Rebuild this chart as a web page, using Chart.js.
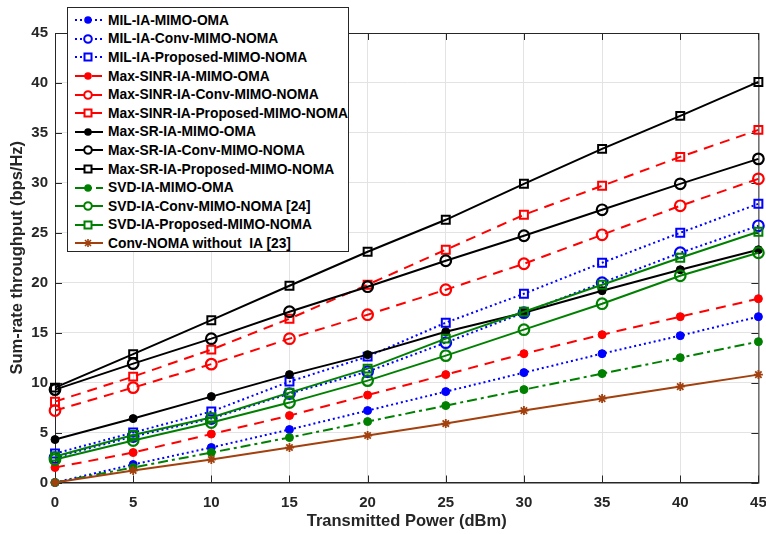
<!DOCTYPE html>
<html>
<head>
<meta charset="utf-8">
<script src="https://cdn.jsdelivr.net/npm/chart.js@4"></script>
<style>
  body { margin: 0; background: #fff; }
  #wrap { position: relative; width: 766px; height: 534px; font-family: 'Liberation Sans', Arial, sans-serif; }
  #legend {
    position: absolute; left: 67px; top: 7px; width: 282px; height: 245px;
    box-sizing: border-box; padding-top: 3px;
    background: #fff; border: 1px solid #262626;
  }
  .row { display: flex; align-items: center; height: 18.6px; }
  .row svg { flex: 0 0 40px; margin-left: -1px; }
  .row span { font-weight: bold; font-size: 13.8px; color: #000; white-space: pre; margin-left: 1px; }
</style>
</head>
<body>
<div id="wrap">
  <canvas id="chart" width="766" height="534"></canvas>
  <div id="legend"></div>
</div>
<script>
// x axis: transmitted power (dBm)
const powerDbm = [0, 5, 10, 15, 20, 25, 30, 35, 40, 45];

const seriesNames = [
  'MIL-IA-MIMO-OMA',
  'MIL-IA-Conv-MIMO-NOMA',
  'MIL-IA-Proposed-MIMO-NOMA',
  'Max-SINR-IA-MIMO-OMA',
  'Max-SINR-IA-Conv-MIMO-NOMA',
  'Max-SINR-IA-Proposed-MIMO-NOMA',
  'Max-SR-IA-MIMO-OMA',
  'Max-SR-IA-Conv-MIMO-NOMA',
  'Max-SR-IA-Proposed-MIMO-NOMA',
  'SVD-IA-MIMO-OMA',
  'SVD-IA-Conv-MIMO-NOMA [24]',
  'SVD-IA-Proposed-MIMO-NOMA',
  'Conv-NOMA without  IA [23]',
];

// sum-rate throughput (bps/Hz)
const milOma        = [0,   1.8,  3.5,  5.3,  7.2,  9.1,  11.0, 12.9, 14.7, 16.6];
const milConv       = [2.5, 4.6,  6.4,  8.9,  11.1, 14.0, 17.0, 20.0, 23.0, 25.7];
const milProposed   = [2.9, 5.0,  7.1,  10.1, 12.6, 16.0, 18.9, 22.0, 25.0, 27.9];
const sinrOma       = [1.5, 3.0,  4.85, 6.7,  8.75, 10.8, 12.9, 14.8, 16.6, 18.4];
const sinrConv      = [7.2, 9.5,  11.85,14.4, 16.8, 19.3, 21.9, 24.8, 27.7, 30.4];
const sinrProposed  = [8.1, 10.6, 13.3, 16.4, 19.8, 23.3, 26.8, 29.7, 32.6, 35.3];
const srOma         = [4.3, 6.4,  8.6,  10.8, 12.8, 15.1, 17.0, 19.2, 21.3, 23.3];
const srConv        = [9.3, 11.9, 14.4, 17.1, 19.6, 22.2, 24.7, 27.3, 29.9, 32.4];
const srProposed    = [9.5, 12.85,16.25,19.7, 23.1, 26.3, 29.9, 33.4, 36.7, 40.1];
const svdOma        = [0,   1.5,  3.0,  4.5,  6.1,  7.7,  9.3,  10.9, 12.5, 14.1];
const svdConv       = [2.3, 4.2,  6.0,  8.0,  10.2, 12.7, 15.3, 17.9, 20.7, 23.0];
const svdProposed   = [2.6, 4.75, 6.5,  9.0,  11.4, 14.4, 17.1, 19.8, 22.5, 25.1];
const convNomaNoIa  = [0,   1.2,  2.3,  3.5,  4.7,  5.9,  7.2,  8.4,  9.6,  10.8];

const seriesValues = [
  milOma, milConv, milProposed,
  sinrOma, sinrConv, sinrProposed,
  srOma, srConv, srProposed,
  svdOma, svdConv, svdProposed,
  convNomaNoIa,
];

const yTicks = [0, 5, 10, 15, 20, 25, 30, 35, 40, 45];

// styles per family / marker
const families = {
  mil:  { color: '#0000ff', dash: [2, 3] },
  sinr: { color: '#ff0000', dash: [10, 7] },
  sr:   { color: '#000000', dash: [] },
  svd:  { color: '#008000', dash: [] },
  conv: { color: '#a2400e', dash: [] },
};
const seriesFamily = ['mil','mil','mil','sinr','sinr','sinr','sr','sr','sr','svd','svd','svd','conv'];
const seriesMarker = ['dot','circle','square','dot','circle','square','dot','circle','square','dot','circle','square','star'];

function familyDash(i) {
  if (i === 9) return [10, 4, 3, 4];  // SVD OMA is dash-dot
  return families[seriesFamily[i]].dash;
}

function markerOpts(kind, color) {
  if (kind === 'dot')    return { pointStyle: 'circle', pointRadius: 4,   pointBackgroundColor: color, pointBorderWidth: 1 };
  if (kind === 'circle') return { pointStyle: 'circle', pointRadius: 5.3, pointBackgroundColor: 'rgba(0,0,0,0)', pointBorderWidth: 2.2 };
  if (kind === 'square') return { pointStyle: 'rect',   pointRadius: 5.6, pointBackgroundColor: 'rgba(0,0,0,0)', pointBorderWidth: 2 };
  return { pointStyle: 'star', pointRadius: 4.5, pointBackgroundColor: color, pointBorderWidth: 1.8 };
}

const N = seriesValues.length;
const datasets = seriesValues.map((vals, i) => {
  const color = families[seriesFamily[i]].color;
  return Object.assign({
    label: seriesNames[i],
    data: vals.map((v, k) => ({ x: powerDbm[k], y: v })),
    borderColor: color,
    pointBorderColor: color,
    borderWidth: 2,
    borderDash: familyDash(i),
    borderCapStyle: 'butt',
    tension: 0,
    clip: false,
    order: N - 1 - i,
  }, markerOpts(seriesMarker[i], color));
});

// box around the plot plus inward ticks on all four sides
const axesBox = {
  id: 'axesBox',
  beforeDatasetsDraw(chart) {
    const { ctx, chartArea: a, scales } = chart;
    ctx.save();
    ctx.strokeStyle = '#262626';
    ctx.lineWidth = 1;
    ctx.strokeRect(a.left + 0.5, a.top + 0.5, a.right - a.left, a.bottom - a.top);
    ctx.beginPath();
    powerDbm.forEach(v => {
      const px = Math.round(scales.x.getPixelForValue(v)) + 0.5;
      ctx.moveTo(px, a.bottom); ctx.lineTo(px, a.bottom - 7);
      ctx.moveTo(px, a.top);    ctx.lineTo(px, a.top + 7);
    });
    yTicks.forEach(v => {
      const py = Math.round(scales.y.getPixelForValue(v)) + 0.5;
      ctx.moveTo(a.left, py);  ctx.lineTo(a.left + 7, py);
      ctx.moveTo(a.right, py); ctx.lineTo(a.right - 7, py);
    });
    ctx.stroke();
    ctx.restore();
  },
};

const tickFont = { family: "'Liberation Sans', Arial, sans-serif", size: 15, weight: 'bold' };
const titleFont = { family: "'Liberation Sans', Arial, sans-serif", size: 16.5, weight: 'bold' };

new Chart(document.getElementById('chart').getContext('2d'), {
  type: 'line',
  data: { datasets },
  options: {
    responsive: false,
    animation: false,
    devicePixelRatio: 1,
    layout: { padding: { left: 0, right: 5, top: 33, bottom: 0 } },
    plugins: { legend: { display: false }, tooltip: { enabled: false } },
    scales: {
      x: {
        type: 'linear', min: 0, max: 45,
        afterBuildTicks: s => { s.ticks = powerDbm.map(v => ({ value: v })); },
        afterFit: s => { s.height = 51.5; s.paddingLeft = 0; s.paddingRight = 0; },
        grid: { color: '#e3e3e3', drawTicks: false },
        border: { color: '#262626' },
        ticks: { font: tickFont, color: '#262626', padding: 11, maxRotation: 0 },
        title: { display: true, text: 'Transmitted Power (dBm)', font: titleFont, color: '#262626', padding: { top: 0, bottom: 3 } },
      },
      y: {
        type: 'linear', min: 0, max: 45,
        afterBuildTicks: s => { s.ticks = yTicks.map(v => ({ value: v })); },
        afterFit: s => { s.width = 55; s.paddingTop = 0; s.paddingBottom = 0; },
        grid: { color: '#e3e3e3', drawTicks: false },
        border: { color: '#262626' },
        ticks: { font: tickFont, color: '#262626', padding: 7 },
        title: { display: true, text: 'Sum-rate throughput (bps/Hz)', font: titleFont, color: '#262626', padding: { top: 8, bottom: 0 } },
      },
    },
  },
  plugins: [axesBox],
});

// legend as html, built from the same arrays
function markerSvg(kind, color) {
  if (kind === 'dot')    return `<circle cx="21" cy="9" r="3.8" fill="${color}"/>`;
  if (kind === 'circle') return `<circle cx="21" cy="9" r="3.8" fill="#fff" stroke="${color}" stroke-width="2"/>`;
  if (kind === 'square') return `<rect x="17.5" y="5.5" width="7" height="7" fill="#fff" stroke="${color}" stroke-width="2"/>`;
  return `<path d="M17 9H25M21 5V13M18 6L24 12M24 6L18 12" stroke="${color}" stroke-width="1.6"/>`;
}

document.getElementById('legend').innerHTML = seriesNames.map((name, i) => {
  const color = families[seriesFamily[i]].color;
  const dash = familyDash(i).join(' ');
  return `<div class="row">
    <svg width="40" height="18"><line x1="8" y1="9" x2="36" y2="9" stroke="${color}" stroke-width="2"${dash ? ` stroke-dasharray="${dash}"` : ''}/>${markerSvg(seriesMarker[i], color)}</svg>
    <span>${name}</span>
  </div>`;
}).join('');
</script>
</body>
</html>
